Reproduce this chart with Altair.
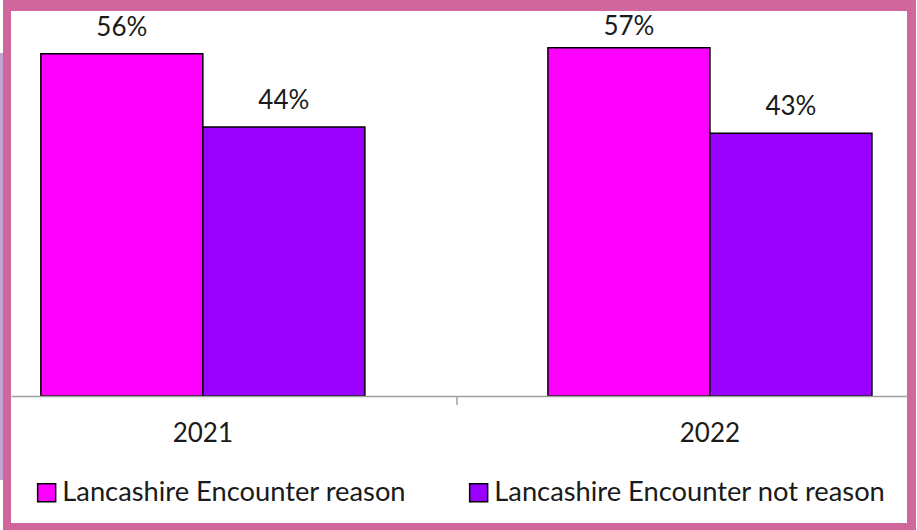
import altair as alt
import pandas as pd

years = ["2021", "2022"]
series = ["Lancashire Encounter reason", "Lancashire Encounter not reason"]
reason = [56, 57]
not_reason = [44, 43]
colors = ["#FF00FF", "#9900FF"]

rows = []
for i, y in enumerate(years):
    rows.append({"year": y, "series": series[0], "value": reason[i], "label": f"{reason[i]}%"})
    rows.append({"year": y, "series": series[1], "value": not_reason[i], "label": f"{not_reason[i]}%"})
df = pd.DataFrame(rows)

FONT = "Lato"
one = alt.Data(values=[{"a": 1}])

pink = alt.Chart(one).mark_rect(color="#CF679C").encode(
    x=alt.value(-8), x2=alt.value(905), y=alt.value(-11), y2=alt.value(519))
white = alt.Chart(one).mark_rect(color="white").encode(
    x=alt.value(0), x2=alt.value(896), y=alt.value(0), y2=alt.value(512))
lav = alt.Chart(one).mark_rect(color="#C3A4CF").encode(
    x=alt.value(-11), x2=alt.value(-8), y=alt.value(42), y2=alt.value(469))

xscale = alt.Scale(domain=years, paddingInner=0.361, paddingOuter=0.064, align=0.46)
xenc = alt.X("year:N", scale=xscale,
             axis=alt.Axis(title=None, labelAngle=0, ticks=False, tickSize=0, labelPadding=24,
                           labelFont=FONT, labelFontSize=26, labelColor="#1a1a1a",
                           domainColor="#A0A0A0", domainWidth=1.5, grid=False, zindex=1))
yenc = alt.Y("value:Q", scale=alt.Scale(domain=[0, 63], nice=False), axis=None)
xoff = alt.XOffset("series:N", sort=series, scale=alt.Scale(domain=series, paddingInner=0, paddingOuter=0))

bars = alt.Chart(df).mark_bar(stroke="black", strokeWidth=1.5).encode(
    x=xenc, xOffset=xoff, y=yenc,
    color=alt.Color("series:N", scale=alt.Scale(domain=series, range=colors),
                    legend=alt.Legend(title=None, orient="none", legendX=22, legendY=468,
                                      direction="horizontal", symbolType="square", symbolSize=324,
                                      symbolStrokeColor="black", symbolStrokeWidth=1.5,
                                      labelFont=FONT, labelFontSize=27.3, labelColor="#1a1a1a",
                                      labelOffset=2, columnPadding=58, padding=0,
                                      labelLimit=600)))

text = alt.Chart(df).transform_calculate(
    lab_y="min(datum.value, 56.2)"
).mark_text(baseline="alphabetic", dy=-18, font=FONT, fontSize=26, color="#1a1a1a").encode(
    x=alt.X("year:N", scale=xscale),
    xOffset=xoff,
    y=alt.Y("lab_y:Q", scale=alt.Scale(domain=[0, 63], nice=False), axis=None),
    text="label:N")

tick = alt.Chart(one).mark_rule(color="#A0A0A0", strokeWidth=1.5).encode(
    x=alt.value(446), y=alt.value(385), y2=alt.value(394))

chart = alt.layer(pink, white, lav, bars, text, tick).properties(
    width=896, height=385,
    autosize=alt.AutoSizeParams(type="none"),
    padding={"left": 11, "top": 11, "right": 10, "bottom": 134},
    background="white",
).configure_view(strokeWidth=0)

chart.save("out.html", embed_options={"renderer": "svg", "actions": False})
